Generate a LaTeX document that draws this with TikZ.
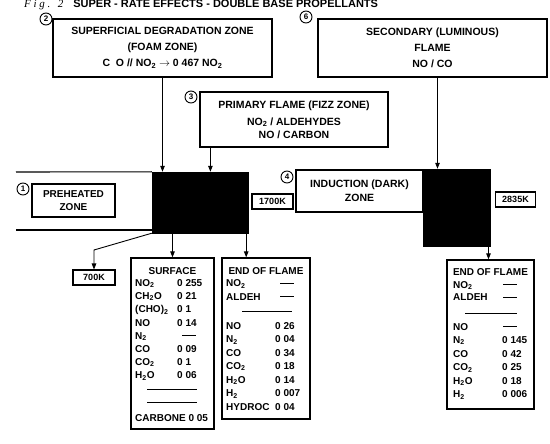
\documentclass[tikz,border=0pt]{standalone}
\usepackage{fontspec}
\setmainfont{Liberation Sans}
\newfontfamily\serfont{Liberation Serif}
\usetikzlibrary{arrows.meta,positioning}
\newcommand{\nilval}{\rule[2.8pt]{14pt}{1.1pt}}
\tikzset{
  zbox/.style={draw, rectangle, line width=1.2pt, align=center, inner sep=0pt, font=\fontsize{10.5}{16}\selectfont\bfseries},
  kbox/.style={draw, rectangle, line width=1.1pt, inner sep=2pt, minimum height=15pt, font=\fontsize{9}{9}\selectfont\bfseries},
  numc/.style={draw, circle, line width=0.9pt, inner sep=0pt, minimum size=12pt, font=\fontsize{8}{8}\selectfont\bfseries},
  dark/.style={fill=black, draw=black, inner sep=0pt},
  tab/.style={draw, rectangle, line width=1.2pt, inner sep=0pt},
  cell/.style={anchor=base west, inner sep=0pt, font=\fontsize{10}{10}\selectfont\bfseries},
  arr/.style={-{Triangle[length=6pt,width=4.5pt]}, line width=0.9pt},
}
\begin{document}
\begin{tikzpicture}[x=1pt, y=-1pt]
\useasboundingbox (0,0) rectangle (550,444);

% Title
\node[anchor=base west, inner sep=0pt, font=\fontsize{11}{11}\selectfont] (title) at (24,8)
  {{\serfont\itshape\addfontfeature{LetterSpace=25}Fig. 2}\hspace{10pt}\bfseries SUPER - RATE EFFECTS - DOUBLE BASE PROPELLANTS};

% Upper zones
\node[zbox, minimum width=219, minimum height=58] (foam) at (162.5,48)
  {SUPERFICIAL DEGRADATION ZONE\\(FOAM ZONE)\\C\ \ O // NO\textsubscript{2} $\rightarrow$ 0 467 NO\textsubscript{2}};
\node[numc] (n2) at (46,19) {2};

\node[zbox, minimum width=229, minimum height=58] (lum) at (432.5,48)
  {SECONDARY (LUMINOUS)\\FLAME\\NO / CO};
\node[numc] (n6) at (306,17) {6};

\node[zbox, minimum width=188, minimum height=55, font=\fontsize{10.5}{13}\selectfont\bfseries] (fizz) at (294,119.5)
  {PRIMARY FLAME (FIZZ ZONE)\\[4pt]NO\textsubscript{2} / ALDEHYDES\\NO / CARBON};
\node[numc] (n3) at (191,97) {3};

% Burning strip
\node[dark, minimum width=96, minimum height=61] (blkA) at (200,202.5) {};
\node[dark, minimum width=67, minimum height=77] (blkB) at (456.5,207.5) {};
\draw[line width=1.1pt] (16,172) -- (blkA.north west);
\draw[line width=1.1pt] (16,230) -- (16,230 -| blkA.west);

\node[zbox, minimum width=83, minimum height=33, font=\fontsize{10}{13}\selectfont\bfseries] (pre) at (73.5,200.5)
  {PREHEATED\\ZONE};
\node[numc] (n1) at (23,189) {1};

\node[zbox, minimum width=127, minimum height=42, font=\fontsize{10.5}{14}\selectfont\bfseries] (ind) at (359.5,191)
  {INDUCTION (DARK)\\ZONE};
\node[numc] (n4) at (287,177) {4};

\node[kbox, minimum width=41] (k1700) at (272.5,201.5) {1700K};
\node[kbox, minimum width=40] (k2835) at (515.5,199.5) {2835K};
\node[kbox, minimum width=42] (k700) at (94,277.5) {700K};

% Arrows into the strip
\coordinate (fizzout) at ([xshift=11pt]fizz.south west);
\coordinate (lumout) at ([xshift=5pt]lum.south);
\draw[arr] (foam.south) -- (foam.south |- blkA.north);
\draw[arr] (fizzout) -- (fizzout |- blkA.north);
\draw[arr] (lumout) -- (lumout |- blkB.north);

% Tables
\node[tab, minimum width=83, minimum height=171] (surf) at (172.5,343.5) {};
\node[tab, minimum width=88, minimum height=161] (eofA) at (266,338.5) {};
\node[tab, minimum width=87, minimum height=149] (eofB) at (490.5,334.5) {};

% Arrows out of the strip
\coordinate (blkAout) at ([xshift=-2pt]blkA.south east);
\coordinate (eofBin) at ([xshift=-2pt]eofB.north);
\draw[arr] (surf.north |- blkA.south) -- (surf.north);
\draw[arr] (blkAout) -- (blkAout |- eofA.north);
\draw[arr] (blkA.south west) -- (k700.north |- 0,250) -- (k700.north);
\draw[arr] (eofBin |- blkB.south) -- (eofBin);

% Surface
\node[cell, anchor=base] (surfhd) at (172.5,274) {SURFACE};
\foreach \yy/\lab/\val [count=\i] in {286.5/NO\textsubscript{2}/0 255, 299.5/CH\textsubscript{2}O/0 21,
    312.5/(CHO)\textsubscript{2}/0 1, 326/NO/0 14, 339/N\textsubscript{2}/\hspace*{5pt}\nilval,
    352/CO/0 09, 365.5/CO\textsubscript{2}/0 1, 378.5/H\textsubscript{2}O/0 06} {
  \node[cell] (surfL\i) at (135,\yy) {\lab};
  \node[cell] (surfV\i) at (177,\yy) {\val};
}
\draw[line width=1pt] (147,389) -- (197,389);
\draw[line width=1pt] (147,402) -- (197,402);
\node[cell] (carb) at (135,421) {CARBONE 0 05};

% End of flame (left)
\node[cell, anchor=base] (eofAhd) at (266,274) {END OF FLAME};
\foreach \yy/\lab/\val [count=\i] in {287/NO\textsubscript{2}/\hspace*{5pt}\nilval, 300/ALDEH/\hspace*{5pt}\nilval,
    329/NO/0 26, 342.5/N\textsubscript{2}/0 04, 356/CO/0 34, 369.5/CO\textsubscript{2}/0 18,
    383/H\textsubscript{2}O/0 14, 396.5/H\textsubscript{2}/0 007, 410/HYDROC/0 04} {
  \node[cell] (eofAL\i) at (226,\yy) {\lab};
  \node[cell] (eofAV\i) at (275,\yy) {\val};
}
\draw[line width=1pt] (242,311) -- (292,311);

% End of flame (right)
\node[cell, anchor=base] (eofBhd) at (490.5,275) {END OF FLAME};
\foreach \yy/\lab/\val [count=\i] in {288/NO\textsubscript{2}/\hspace*{1pt}\nilval, 301/ALDEH/\hspace*{1pt}\nilval,
    330/NO/\hspace*{1pt}\nilval, 343.5/N\textsubscript{2}/0 145, 357/CO/0 42, 370.5/CO\textsubscript{2}/0 25,
    384/H\textsubscript{2}O/0 18, 397.5/H\textsubscript{2}/0 006} {
  \node[cell] (eofBL\i) at (453,\yy) {\lab};
  \node[cell] (eofBV\i) at (502,\yy) {\val};
}
\draw[line width=1pt] (465,313) -- (517,313);

\end{tikzpicture}
\end{document}
